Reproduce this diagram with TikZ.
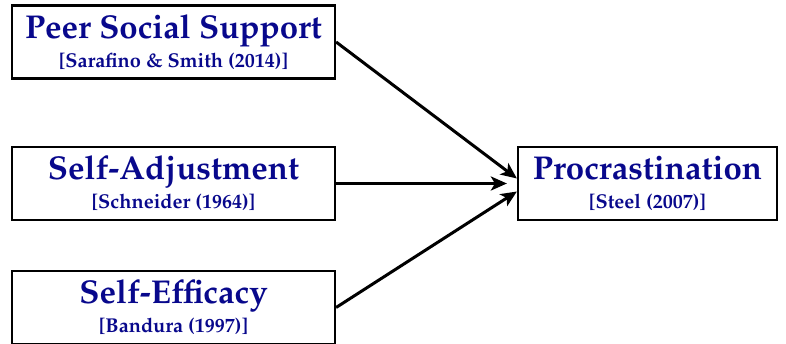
\documentclass[tikz,border=0pt]{standalone}
\usepackage[T1]{fontenc}
\renewcommand{\rmdefault}{ppl}
\usepackage{xcolor}
\usepackage{tikz}
\usetikzlibrary{arrows.meta}
\usetikzlibrary{positioning}
\definecolor{inkblue}{RGB}{8,8,140}

\begin{document}
\begin{tikzpicture}[x=1pt,y=1pt,
	factor/.style={draw,line width=2.2pt,minimum width=323pt,minimum height=73pt,
		align=center,inner sep=0pt,text=inkblue,
		font=\bfseries\fontsize{33}{29}\selectfont},
	link/.style={line width=3pt,-{Stealth[length=16pt,width=14pt,inset=4pt]}}]
  \useasboundingbox (0,0) rectangle (786,-344);
  \node[factor] (support) at (173.5,-42)
    {Peer Social Support\\
     {\fontsize{20}{29}\selectfont [Sarafino \& Smith (2014)]}};
  \node[factor] (adjust) at (173.5,-183.5)
    {Self-Adjustment\\
     {\fontsize{20}{29}\selectfont [Schneider (1964)]}};
  \node[factor] (efficacy) at (173.5,-307.5)
    {Self-Efficacy\\
     {\fontsize{20}{29}\selectfont [Bandura (1997)]}};
  \node[factor,minimum width=259pt] (procr) at (647.5,-183.5)
    {Procrastination\\
     {\fontsize{20}{29}\selectfont [Steel (2007)]}};

  \draw[link] (support.east) -- ([yshift=5pt]procr.west);
  \draw[link] (adjust.east) -- ([xshift=-10pt]procr.west);
  \draw[link] (efficacy.east) -- ([yshift=-8pt]procr.west);
\end{tikzpicture}
\end{document}
